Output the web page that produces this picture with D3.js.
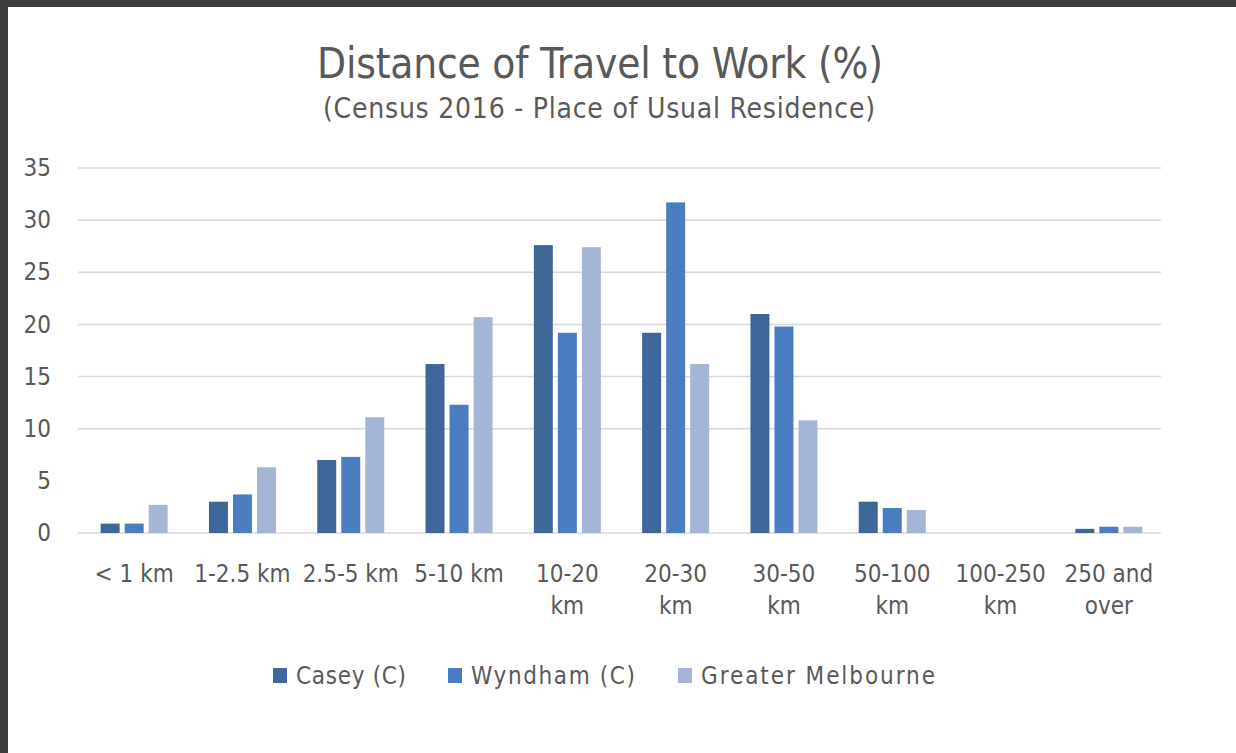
<!DOCTYPE html>
<html>
<head>
<meta charset="utf-8">
<script src="https://cdn.jsdelivr.net/npm/d3@7"></script>
<style>
  body { margin: 0; background: #3c3c3c; }
  text { font-family: "Liberation Sans Narrow", "DejaVu Sans Condensed", "Open Sans", sans-serif; fill: #595959; }
</style>
</head>
<body>
<div id="chart"></div>
<script>
// data
var categories = ["< 1 km", "1-2.5 km", "2.5-5 km", "5-10 km", "10-20 km", "20-30 km",
                  "30-50 km", "50-100 km", "100-250 km", "250 and over"];
// how the tick labels wrap in the original
var tickLines = [["< 1 km"], ["1-2.5 km"], ["2.5-5 km"], ["5-10 km"], ["10-20", "km"], ["20-30", "km"],
                 ["30-50", "km"], ["50-100", "km"], ["100-250", "km"], ["250 and", "over"]];
var seriesNames = ["Casey (C)", "Wyndham (C)", "Greater Melbourne"];
var casey       = [0.9, 3.0, 7.0, 16.2, 27.6, 19.2, 21.0, 3.0, 0, 0.4];
var wyndham     = [0.9, 3.7, 7.3, 12.3, 19.2, 31.7, 19.8, 2.4, 0, 0.6];
var greaterMelb = [2.7, 6.3, 11.1, 20.7, 27.4, 16.2, 10.8, 2.2, 0, 0.6];
var yTicks = [0, 5, 10, 15, 20, 25, 30, 35];

var colors = ["#3f6699", "#4a7cc0", "#a5b5d5"];
var allSeries = [casey, wyndham, greaterMelb];

var W = 1236, H = 753;

var svg = d3.select("#chart").append("svg")
    .attr("width", W)
    .attr("height", H);

// dark frame + white chart area
svg.append("rect").attr("width", W).attr("height", H).attr("fill", "#3c3c3c");
svg.append("rect").attr("x", 8).attr("y", 7).attr("width", W - 8).attr("height", H - 7).attr("fill", "#ffffff");

// scales
var x0 = d3.scaleBand().domain(categories).range([80, 1163]);
var x1 = d3.scaleBand().domain(seriesNames).range([0, 67]).paddingInner(0.21);
var y = d3.scaleLinear().domain([0, 35]).range([533, 168]);

// titles
svg.append("text")
    .attr("x", 600).attr("y", 78)
    .attr("text-anchor", "middle")
    .attr("textLength", 566)
    .style("font-size", "42px")
    .text("Distance of Travel to Work (%)");

svg.append("text")
    .attr("x", 599).attr("y", 118)
    .attr("text-anchor", "middle")
    .attr("textLength", 552)
    .style("font-size", "28px")
    .text("(Census 2016 - Place of Usual Residence)");

// gridlines (no line at 5 in the original)
svg.append("g")
  .selectAll("line")
  .data(yTicks.filter(function(d) { return d !== 5; }))
  .enter().append("line")
    .attr("x1", 78).attr("x2", 1161)
    .attr("y1", function(d) { return y(d); })
    .attr("y2", function(d) { return y(d); })
    .attr("stroke", "#d9d9d9")
    .attr("stroke-width", 1.5);

// y axis labels
var yAxis = svg.append("g")
    .attr("transform", "translate(51,0)")
    .call(d3.axisLeft(y).tickValues(yTicks).tickSize(0).tickPadding(0));
yAxis.select(".domain").remove();
yAxis.selectAll("text")
    .style("font-size", "24px")
    .style("font-family", null)
    .attr("fill", "#595959");

// bars
var groups = svg.append("g")
  .selectAll("g")
  .data(categories)
  .enter().append("g")
    .attr("transform", function(d) {
      return "translate(" + (x0(d) + x0.bandwidth() / 2 - 33.5) + ",0)";
    });

groups.selectAll("rect")
  .data(function(d, i) {
    return seriesNames.map(function(s, j) { return {series: s, idx: j, value: allSeries[j][i]}; });
  })
  .enter().append("rect")
    .attr("x", function(d) { return x1(d.series); })
    .attr("width", x1.bandwidth())
    .attr("y", function(d) { return y(d.value); })
    .attr("height", function(d) { return y(0) - y(d.value); })
    .attr("fill", function(d) { return colors[d.idx]; });

// x axis labels
var xl = svg.append("g")
  .selectAll("text")
  .data(categories)
  .enter().append("text")
    .attr("x", function(d) { return x0(d) + x0.bandwidth() / 2; })
    .attr("y", 582)
    .attr("text-anchor", "middle")
    .style("font-size", "24px");

xl.each(function(d, i) {
  var t = d3.select(this);
  tickLines[i].forEach(function(line, k) {
    t.append("tspan")
      .attr("x", x0(d) + x0.bandwidth() / 2)
      .attr("dy", k === 0 ? 0 : 32)
      .text(line);
  });
});

// legend
var legendX = [273, 448, 678];
var legendLen = [110, 164, 234];
var legend = svg.append("g")
  .selectAll("g")
  .data(seriesNames)
  .enter().append("g")
    .attr("transform", function(d, i) { return "translate(" + legendX[i] + ",668)"; });

legend.append("rect")
    .attr("width", 14).attr("height", 15)
    .attr("fill", function(d, i) { return colors[i]; });

legend.append("text")
    .attr("x", 23).attr("y", 16)
    .attr("textLength", function(d, i) { return legendLen[i]; })
    .style("font-size", "24px")
    .text(function(d) { return d; });
</script>
</body>
</html>
